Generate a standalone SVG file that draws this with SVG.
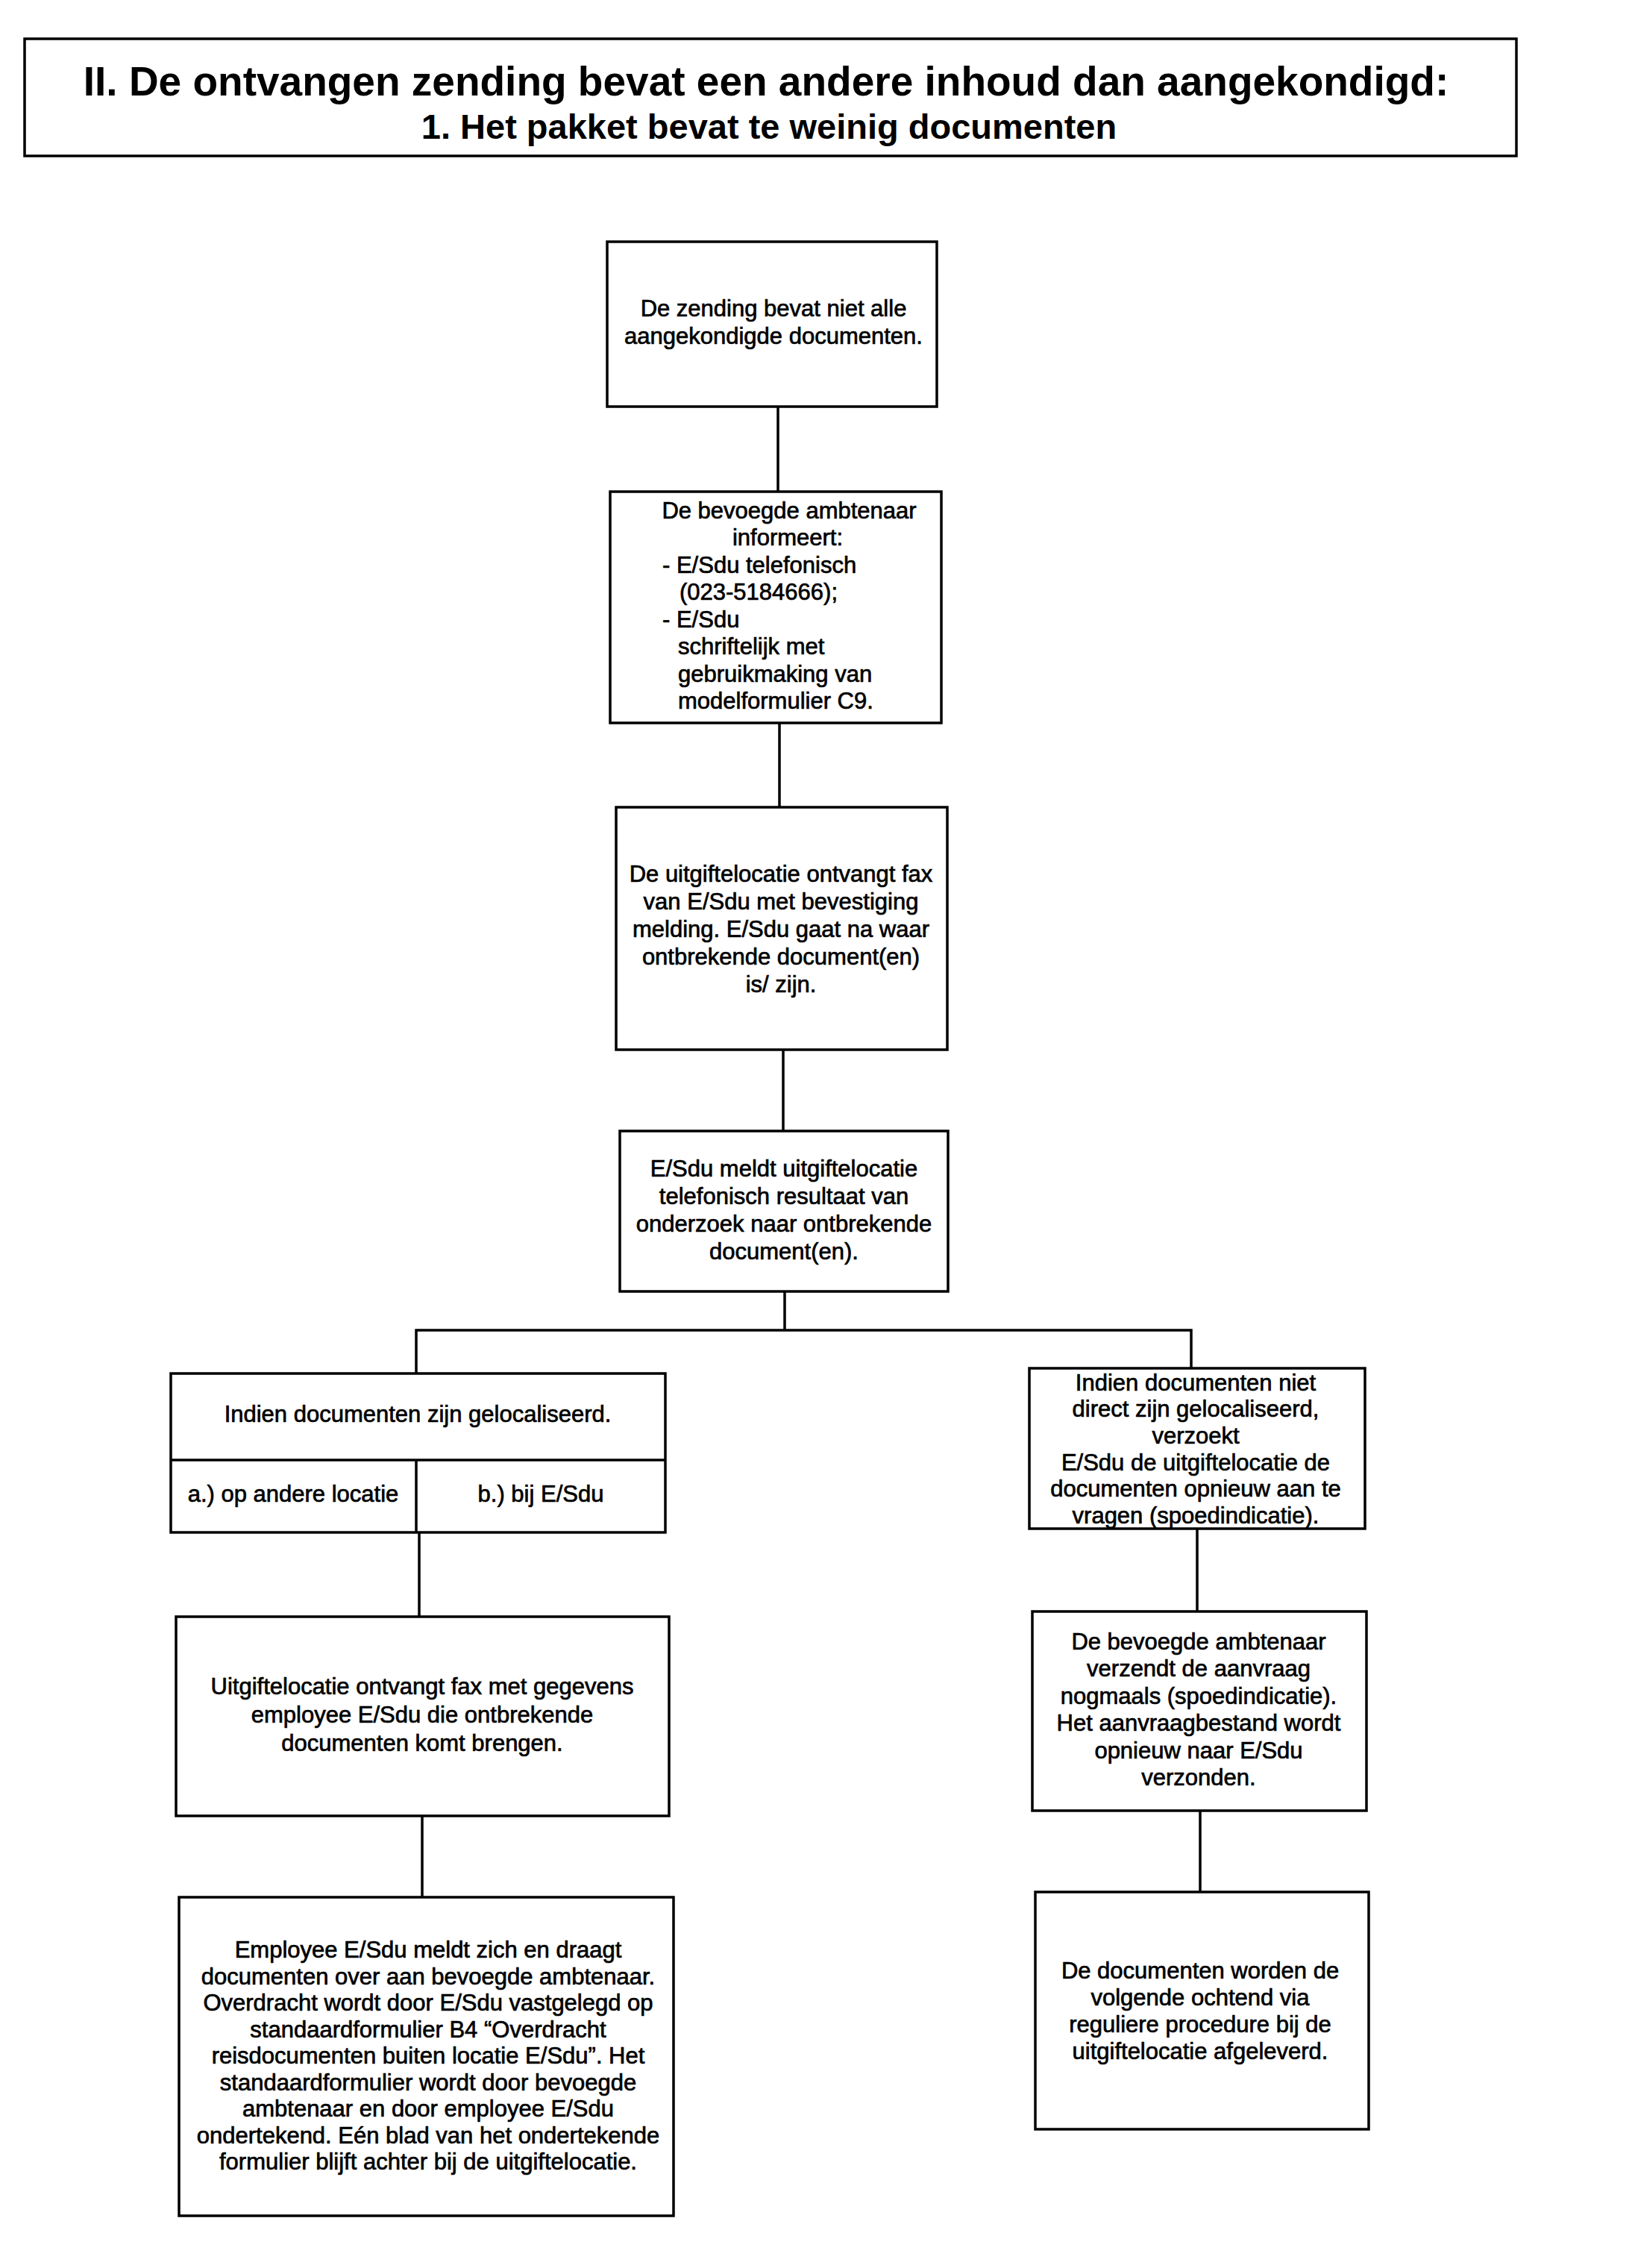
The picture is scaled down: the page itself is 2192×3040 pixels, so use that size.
<svg xmlns="http://www.w3.org/2000/svg" width="2192" height="3040" viewBox="0 0 2192 3040">
<style>
.box{fill:#fff;stroke:#000;stroke-width:3.5}
.ln{stroke:#000;stroke-width:3.5;fill:none}
.t{font-family:"Liberation Sans",Arial,sans-serif;font-size:31px;fill:#000;stroke:#000;stroke-width:0.7}
.c{text-anchor:middle}
.h1{font-family:"Liberation Sans",Arial,sans-serif;font-weight:bold;font-size:55px;fill:#000;text-anchor:middle}
.h2{font-family:"Liberation Sans",Arial,sans-serif;font-weight:bold;font-size:47px;fill:#000;text-anchor:middle}
</style>
<rect width="2192" height="3040" fill="#fff"/>
<g id="title">
<rect class="box" x="33" y="52" width="2000" height="157"/>
<text class="h1" x="1027" y="128">II. De ontvangen zending bevat een andere inhoud dan aangekondigd:</text>
<text class="h2" x="1031" y="186">1. Het pakket bevat te weinig documenten</text>
</g>
<g id="connectors">
<line class="ln" x1="1043" y1="545" x2="1043" y2="659"/>
<line class="ln" x1="1045" y1="969" x2="1045" y2="1082"/>
<line class="ln" x1="1050" y1="1407" x2="1050" y2="1516"/>
<line class="ln" x1="1052" y1="1731" x2="1052" y2="1783"/>
<polyline class="ln" points="558,1841 558,1783 1597,1783 1597,1834"/>
<line class="ln" x1="562" y1="2054" x2="562" y2="2167"/>
<line class="ln" x1="566" y1="2434" x2="566" y2="2543"/>
<line class="ln" x1="1605" y1="2049" x2="1605" y2="2160"/>
<line class="ln" x1="1609" y1="2427" x2="1609" y2="2536"/>
</g>
<g id="n1">
<rect class="box" x="814" y="324" width="442" height="221"/>
<text class="t c" x="1037" y="424">De zending bevat niet alle</text>
<text class="t c" x="1037" y="461">aangekondigde documenten.</text>
</g>
<g id="n2">
<rect class="box" x="818" y="659" width="444" height="310"/>
<text class="t c" x="1058" y="695">De bevoegde ambtenaar</text>
<text class="t c" x="1056" y="731">informeert:</text>
<text class="t" x="888" y="768">- E/Sdu telefonisch</text>
<text class="t" x="911" y="804">(023-5184666);</text>
<text class="t" x="888" y="841">- E/Sdu</text>
<text class="t" x="909" y="877">schriftelijk met</text>
<text class="t" x="909" y="914">gebruikmaking van</text>
<text class="t" x="909" y="950">modelformulier C9.</text>
</g>
<g id="n3">
<rect class="box" x="826" y="1082" width="444" height="325"/>
<text class="t c" x="1047" y="1182">De uitgiftelocatie ontvangt fax</text>
<text class="t c" x="1047" y="1219">van E/Sdu met bevestiging</text>
<text class="t c" x="1047" y="1256">melding. E/Sdu gaat na waar</text>
<text class="t c" x="1047" y="1293">ontbrekende document(en)</text>
<text class="t c" x="1047" y="1330">is/ zijn.</text>
</g>
<g id="n4">
<rect class="box" x="831" y="1516" width="440" height="215"/>
<text class="t c" x="1051" y="1577">E/Sdu meldt uitgiftelocatie</text>
<text class="t c" x="1051" y="1614">telefonisch resultaat van</text>
<text class="t c" x="1051" y="1651">onderzoek naar ontbrekende</text>
<text class="t c" x="1051" y="1688">document(en).</text>
</g>
<g id="n5">
<rect class="box" x="229" y="1841" width="663" height="213"/>
<line class="ln" x1="229" y1="1957" x2="892" y2="1957"/>
<line class="ln" x1="558" y1="1957" x2="558" y2="2054"/>
<text class="t c" x="560" y="1906">Indien documenten zijn gelocaliseerd.</text>
<text class="t c" x="393" y="2013">a.) op andere locatie</text>
<text class="t c" x="725" y="2013">b.) bij E/Sdu</text>
</g>
<g id="n6">
<rect class="box" x="1380" y="1834" width="450" height="215"/>
<text class="t c" x="1603" y="1864">Indien documenten niet</text>
<text class="t c" x="1603" y="1899">direct zijn gelocaliseerd,</text>
<text class="t c" x="1603" y="1935">verzoekt</text>
<text class="t c" x="1603" y="1971">E/Sdu de uitgiftelocatie de</text>
<text class="t c" x="1603" y="2006">documenten opnieuw aan te</text>
<text class="t c" x="1603" y="2042">vragen (spoedindicatie).</text>
</g>
<g id="n7">
<rect class="box" x="236" y="2167" width="661" height="267"/>
<text class="t c" x="566" y="2271">Uitgiftelocatie ontvangt fax met gegevens</text>
<text class="t c" x="566" y="2309">employee E/Sdu die ontbrekende</text>
<text class="t c" x="566" y="2347">documenten komt brengen.</text>
</g>
<g id="n8">
<rect class="box" x="240" y="2543" width="663" height="427"/>
<text class="t c" x="574" y="2624">Employee E/Sdu meldt zich en draagt</text>
<text class="t c" x="574" y="2660">documenten over aan bevoegde ambtenaar.</text>
<text class="t c" x="574" y="2695">Overdracht wordt door E/Sdu vastgelegd op</text>
<text class="t c" x="574" y="2731">standaardformulier B4 “Overdracht</text>
<text class="t c" x="574" y="2766">reisdocumenten buiten locatie E/Sdu”. Het</text>
<text class="t c" x="574" y="2802">standaardformulier wordt door bevoegde</text>
<text class="t c" x="574" y="2837">ambtenaar en door employee E/Sdu</text>
<text class="t c" x="574" y="2873">ondertekend. Eén blad van het ondertekende</text>
<text class="t c" x="574" y="2908">formulier blijft achter bij de uitgiftelocatie.</text>
</g>
<g id="n9">
<rect class="box" x="1384" y="2160" width="448" height="267"/>
<text class="t c" x="1607" y="2211">De bevoegde ambtenaar</text>
<text class="t c" x="1607" y="2247">verzendt de aanvraag</text>
<text class="t c" x="1607" y="2284">nogmaals (spoedindicatie).</text>
<text class="t c" x="1607" y="2320">Het aanvraagbestand wordt</text>
<text class="t c" x="1607" y="2357">opnieuw naar E/Sdu</text>
<text class="t c" x="1607" y="2393">verzonden.</text>
</g>
<g id="n10">
<rect class="box" x="1388" y="2536" width="447" height="318"/>
<text class="t c" x="1609" y="2652">De documenten worden de</text>
<text class="t c" x="1609" y="2688">volgende ochtend via</text>
<text class="t c" x="1609" y="2724">reguliere procedure bij de</text>
<text class="t c" x="1609" y="2760">uitgiftelocatie afgeleverd.</text>
</g>
</svg>
